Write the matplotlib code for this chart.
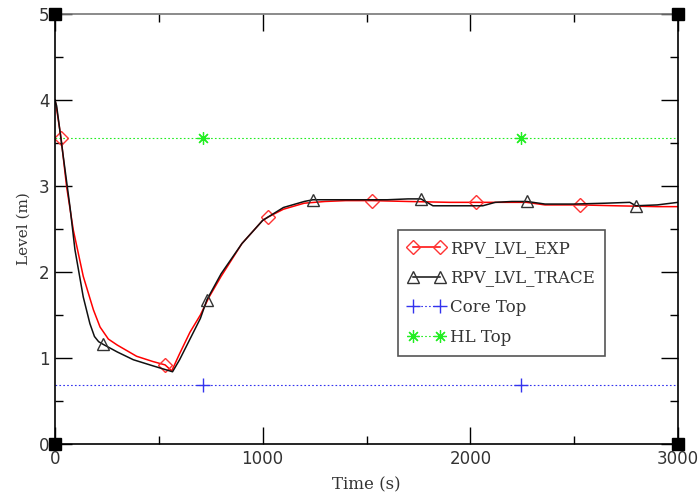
import numpy as np
import matplotlib
matplotlib.use("Agg")
import matplotlib.pyplot as plt
from matplotlib.ticker import MultipleLocator

# EXP data
t_exp = [0, 5, 29, 56, 88, 136, 185, 217, 257, 300, 393, 470, 530, 562, 600, 650, 700, 740, 800, 900, 1000,
         1027, 1100, 1200, 1300, 1400, 1527, 1700, 1900, 2027, 2200, 2270, 2360, 2528, 2700, 2900, 3000]
lvl_exp = [4.0, 3.94, 3.56, 2.99, 2.49, 1.95, 1.56, 1.36, 1.22, 1.15, 1.02, 0.96, 0.92, 0.85, 1.05, 1.3,
           1.5, 1.7, 1.95, 2.33, 2.6, 2.64, 2.73, 2.8, 2.82, 2.83, 2.83, 2.82, 2.81, 2.81, 2.81, 2.81, 2.78,
           2.78, 2.77, 2.76, 2.76]
exp_mark_t = [29, 530, 1027, 1527, 2027, 2528]

# TRACE data
t_trace = [0, 8, 40, 72, 96, 136, 168, 190, 210, 231, 300, 377, 470, 566, 600, 650, 700, 732, 800, 900,
           1000, 1100, 1200, 1242, 1400, 1500, 1600, 1700, 1762, 1820, 1900, 2000, 2060, 2120, 2200, 2272,
           2360, 2500, 2650, 2768, 2797, 2900, 3000]
lvl_trace = [4.0, 3.93, 3.34, 2.76, 2.26, 1.71, 1.4, 1.25, 1.19, 1.16, 1.07, 0.98, 0.91, 0.84, 0.98, 1.22,
             1.46, 1.68, 1.98, 2.33, 2.6, 2.75, 2.82, 2.84, 2.84, 2.84, 2.84, 2.85, 2.85, 2.77, 2.77, 2.77,
             2.77, 2.81, 2.82, 2.82, 2.79, 2.79, 2.8, 2.81, 2.77, 2.78, 2.81]
trace_mark_t = [231, 732, 1242, 1762, 2272, 2797]

# Reference lines
t_ref = [0, 712, 2244, 3000]
core_top = [0.69, 0.69, 0.69, 0.69]
hl_top = [3.56, 3.56, 3.56, 3.56]

fig = plt.figure(figsize=(6.98, 5.0), dpi=100)
ax = fig.add_axes([55/698, 56/500, 623/698, 430/500])

serif = ["DejaVu Serif"]

ax.plot(t_ref, core_top, color="#3333ee", lw=0.8, ls=(0, (1.5, 2)), marker="+", ms=10, mew=1,
        markevery=[1, 2], label="Core Top")
ax.plot(t_ref, hl_top, color="#22ee22", lw=0.8, ls=(0, (1.5, 2)), marker=(8, 2, 0), ms=9, mew=0.9,
        markevery=[1, 2], label="HL Top")

exp_idx = [t_exp.index(v) for v in exp_mark_t]
trace_idx = [t_trace.index(v) for v in trace_mark_t]
ax.plot(t_exp, lvl_exp, color="#ff0000", lw=1.1, marker="D", ms=7, mfc="none", mec="#ff3333", mew=1,
        markevery=exp_idx, label="RPV_LVL_EXP")
ax.plot(t_trace, lvl_trace, color="#111111", lw=1.1, marker="^", ms=9, mfc="none", mec="#333333", mew=1,
        markevery=trace_idx, label="RPV_LVL_TRACE")

ax.set_xlim(0, 3000)
ax.set_ylim(0, 5)
ax.xaxis.set_major_locator(MultipleLocator(1000))
ax.xaxis.set_minor_locator(MultipleLocator(500))
ax.yaxis.set_major_locator(MultipleLocator(1))
ax.yaxis.set_minor_locator(MultipleLocator(0.5))
ax.tick_params(which="both", direction="in", top=True, right=True, labelsize=12, labelcolor="#333333",
               width=1, pad=4)
ax.tick_params(which="major", length=12)
ax.tick_params(which="minor", length=6)
for s in ["left", "right", "bottom"]:
    ax.spines[s].set_color("black")
    ax.spines[s].set_linewidth(1.2)
ax.spines["top"].set_color("#777777")
ax.spines["top"].set_linewidth(1.2)

# corner squares
ax.plot([0, 3000, 0, 3000], [0, 0, 5, 5], ls="none", marker="s", ms=8, color="black", clip_on=False,
        zorder=5)

ax.set_xlabel("Time (s)", family=serif, fontsize=12, color="#333333", labelpad=6)
ax.set_ylabel("Level (m)", family=serif, fontsize=11, color="#333333", labelpad=6)

h, l = ax.get_legend_handles_labels()
order = [2, 3, 0, 1]
leg = ax.legend([h[i] for i in order], [l[i] for i in order], loc="upper left",
                bbox_to_anchor=((398-55)/623, (444-230)/430), borderaxespad=0, numpoints=2,
                fancybox=False, framealpha=1, edgecolor="#555555", prop={"family": serif, "size": 12},
                handlelength=2.2, handletextpad=0.3, borderpad=0.6, labelspacing=0.75)
leg.get_frame().set_linewidth(1.2)
for t in leg.get_texts():
    t.set_color("#333333")

fig.savefig("out.png", dpi=100)
